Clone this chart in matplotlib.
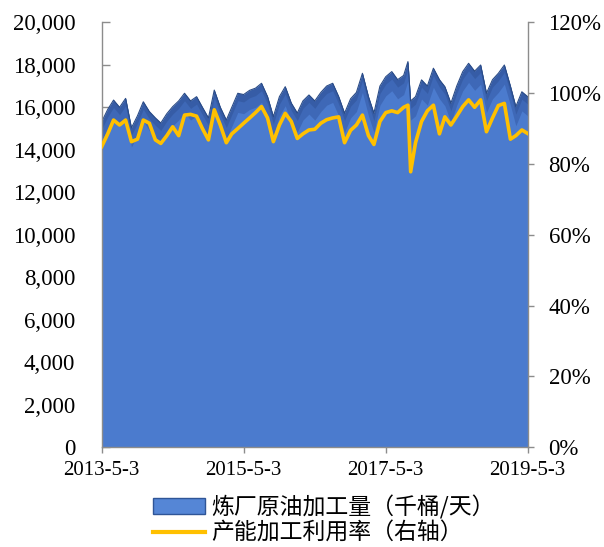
import matplotlib
matplotlib.use("Agg")
import matplotlib.pyplot as plt
from matplotlib.patches import Patch
from matplotlib.lines import Line2D
from matplotlib.ticker import FuncFormatter, MultipleLocator
import pandas as pd
import numpy as np

# ---------------- data ----------------
dates = [
    "2013-05-03", "2013-06-03", "2013-07-03", "2013-08-03", "2013-09-03", "2013-10-03",
    "2013-11-03", "2013-12-03", "2014-01-03", "2014-02-03", "2014-03-03", "2014-04-03",
    "2014-05-03", "2014-06-03", "2014-07-03", "2014-08-03", "2014-09-03", "2014-10-03",
    "2014-11-03", "2014-12-03", "2015-01-03", "2015-02-03", "2015-03-03", "2015-04-03",
    "2015-05-03", "2015-06-03", "2015-07-03", "2015-08-03", "2015-09-03", "2015-10-03",
    "2015-11-03", "2015-12-03", "2016-01-03", "2016-02-03", "2016-03-03", "2016-04-03",
    "2016-05-03", "2016-06-03", "2016-07-03", "2016-08-03", "2016-09-03", "2016-10-03",
    "2016-11-03", "2016-12-03", "2017-01-03", "2017-02-03", "2017-03-03", "2017-04-03",
    "2017-05-03", "2017-06-03", "2017-07-03", "2017-08-03", "2017-08-25", "2017-09-08",
    "2017-10-03", "2017-11-03", "2017-12-03", "2018-01-03", "2018-02-03", "2018-03-03",
    "2018-04-03", "2018-05-03", "2018-06-03", "2018-07-03", "2018-08-03", "2018-09-03",
    "2018-10-03", "2018-11-03", "2018-12-03", "2019-01-03", "2019-02-03", "2019-03-03",
    "2019-04-03", "2019-05-03",
]

# refinery crude runs, thousand barrels per day (left axis)
crude_runs = [
    15320, 15900, 16340, 16000, 16420, 15030,
    15600, 16260, 15800, 15500, 15260, 15700,
    16030, 16300, 16660, 16300, 16500, 16000,
    15500, 16810, 16000, 15400, 16000, 16660,
    16600, 16800, 16900, 17130, 16500, 15560,
    16500, 16970, 16200, 15730, 16300, 16580,
    16300, 16700, 17000, 17130, 16500, 15720,
    16400, 16700, 17600, 16500, 15720, 17000,
    17440, 17680, 17300, 17500, 18150, 16300,
    16500, 17290, 17000, 17840, 17300, 16970,
    16190, 17000, 17680, 18070, 17700, 17990,
    16660, 17300, 17600, 17990, 17000, 16030,
    16730, 16500,
]

# refinery utilisation rate, % (right axis)
utilization = [
    84.9, 88.5, 92.4, 91.0, 92.4, 86.3,
    87.0, 92.4, 91.5, 86.8, 85.8, 88.0,
    90.5, 88.0, 93.8, 94.0, 93.5, 90.0,
    86.8, 95.3, 91.0, 86.0, 88.5, 90.0,
    91.5, 93.0, 94.5, 96.2, 93.0, 86.3,
    91.0, 94.3, 92.0, 87.2, 88.5, 89.6,
    89.8, 91.5, 92.5, 93.0, 93.3, 86.0,
    89.5, 91.0, 93.8, 88.0, 85.5, 92.0,
    94.5, 95.0, 94.5, 96.0, 96.6, 77.8,
    86.0, 92.0, 95.0, 96.6, 88.5, 93.3,
    91.0, 93.5, 96.2, 98.1, 96.0, 98.1,
    89.1, 93.0, 96.5, 97.1, 87.0, 88.0,
    89.6, 88.6,
]

xtick_dates = ["2013-05-03", "2015-05-03", "2017-05-03", "2019-05-03"]
xtick_labels = ["2013-5-3", "2015-5-3", "2017-5-3", "2019-5-3"]
legend_labels = ["炼厂原油加工量（千桶/天）", "产能加工利用率（右轴）"]

# ---------------- styling ----------------
SERIF = "Liberation Serif"
CJK = ["Noto Sans CJK SC", "DejaVu Sans"]
AREA = "#4B7BCE"
AREA_TOP = "#3C65B3"
AREA_EDGE = "#2A4B86"
GOLD = "#FFC000"
AXIS_GRAY = "#8C8C8C"

x = pd.to_datetime(dates)
runs = np.array(crude_runs, dtype=float)
util = np.array(utilization, dtype=float)

fig = plt.figure(figsize=(6.04, 5.47), dpi=100)
ax = fig.add_axes([101.7 / 604, 1 - 447.3 / 547, 426 / 604, 425 / 547])

# area (with a darker "3D" top band)
ax.fill_between(x, 0, runs, color=AREA, linewidth=0, zorder=2)
ax.fill_between(x, runs - 900, runs, color=AREA_TOP, linewidth=0, alpha=0.85, zorder=3)
ax.fill_between(x, runs - 350, runs, color="#33589F", linewidth=0, alpha=0.7, zorder=3)
ax.plot(x, runs, color=AREA_EDGE, lw=0.8, zorder=4)

ax.set_xlim(pd.Timestamp(xtick_dates[0]), pd.Timestamp(xtick_dates[-1]))
ax.set_ylim(0, 20000)
ax.yaxis.set_major_locator(MultipleLocator(2000))
ax.yaxis.set_major_formatter(FuncFormatter(lambda v, p: f"{int(v):,}"))
ax.set_xticks(pd.to_datetime(xtick_dates))
ax.set_xticklabels(xtick_labels)

for s in ["top", "right"]:
    ax.spines[s].set_visible(False)
for s in ["left", "bottom"]:
    ax.spines[s].set_color(AXIS_GRAY)
    ax.spines[s].set_linewidth(1.0)
    ax.spines[s].set_zorder(6)

ax.tick_params(axis="y", direction="in", length=6, width=1, color=AXIS_GRAY,
               pad=19, labelsize=16.5)
ax.tick_params(axis="x", direction="out", length=4, width=1, color=AXIS_GRAY,
               pad=6, labelsize=15)
for lab in ax.get_xticklabels() + ax.get_yticklabels():
    lab.set_fontfamily(SERIF)

# right axis
ax2 = ax.twinx()
ax2.plot(x, util, color=GOLD, lw=2.6, zorder=5, solid_joinstyle="round")
ax2.set_ylim(0, 120)
ax2.yaxis.set_major_locator(MultipleLocator(20))
ax2.yaxis.set_major_formatter(FuncFormatter(lambda v, p: f"{int(v)}%"))
for s in ["top", "left", "bottom"]:
    ax2.spines[s].set_visible(False)
ax2.spines["right"].set_color(AXIS_GRAY)
ax2.spines["right"].set_linewidth(1.0)
ax2.tick_params(axis="y", direction="out", length=4, width=1, color=AXIS_GRAY,
                pad=11, labelsize=16.5)
for lab in ax2.get_yticklabels():
    lab.set_fontfamily(SERIF)

# legend
handles = [
    Patch(facecolor="#5586D6", edgecolor="#2F5597", linewidth=1.0),
    Line2D([0], [0], color=GOLD, lw=3),
]
leg = fig.legend(handles, legend_labels, loc="upper left",
                 bbox_to_anchor=(153 / 604, 1 - 495 / 547),
                 frameon=False, borderpad=0, borderaxespad=0,
                 handlelength=2.25, handleheight=0.65, handletextpad=0.3,
                 labelspacing=0.12, prop={"family": CJK, "size": 16.5})

fig.savefig("out.png", dpi=100)
